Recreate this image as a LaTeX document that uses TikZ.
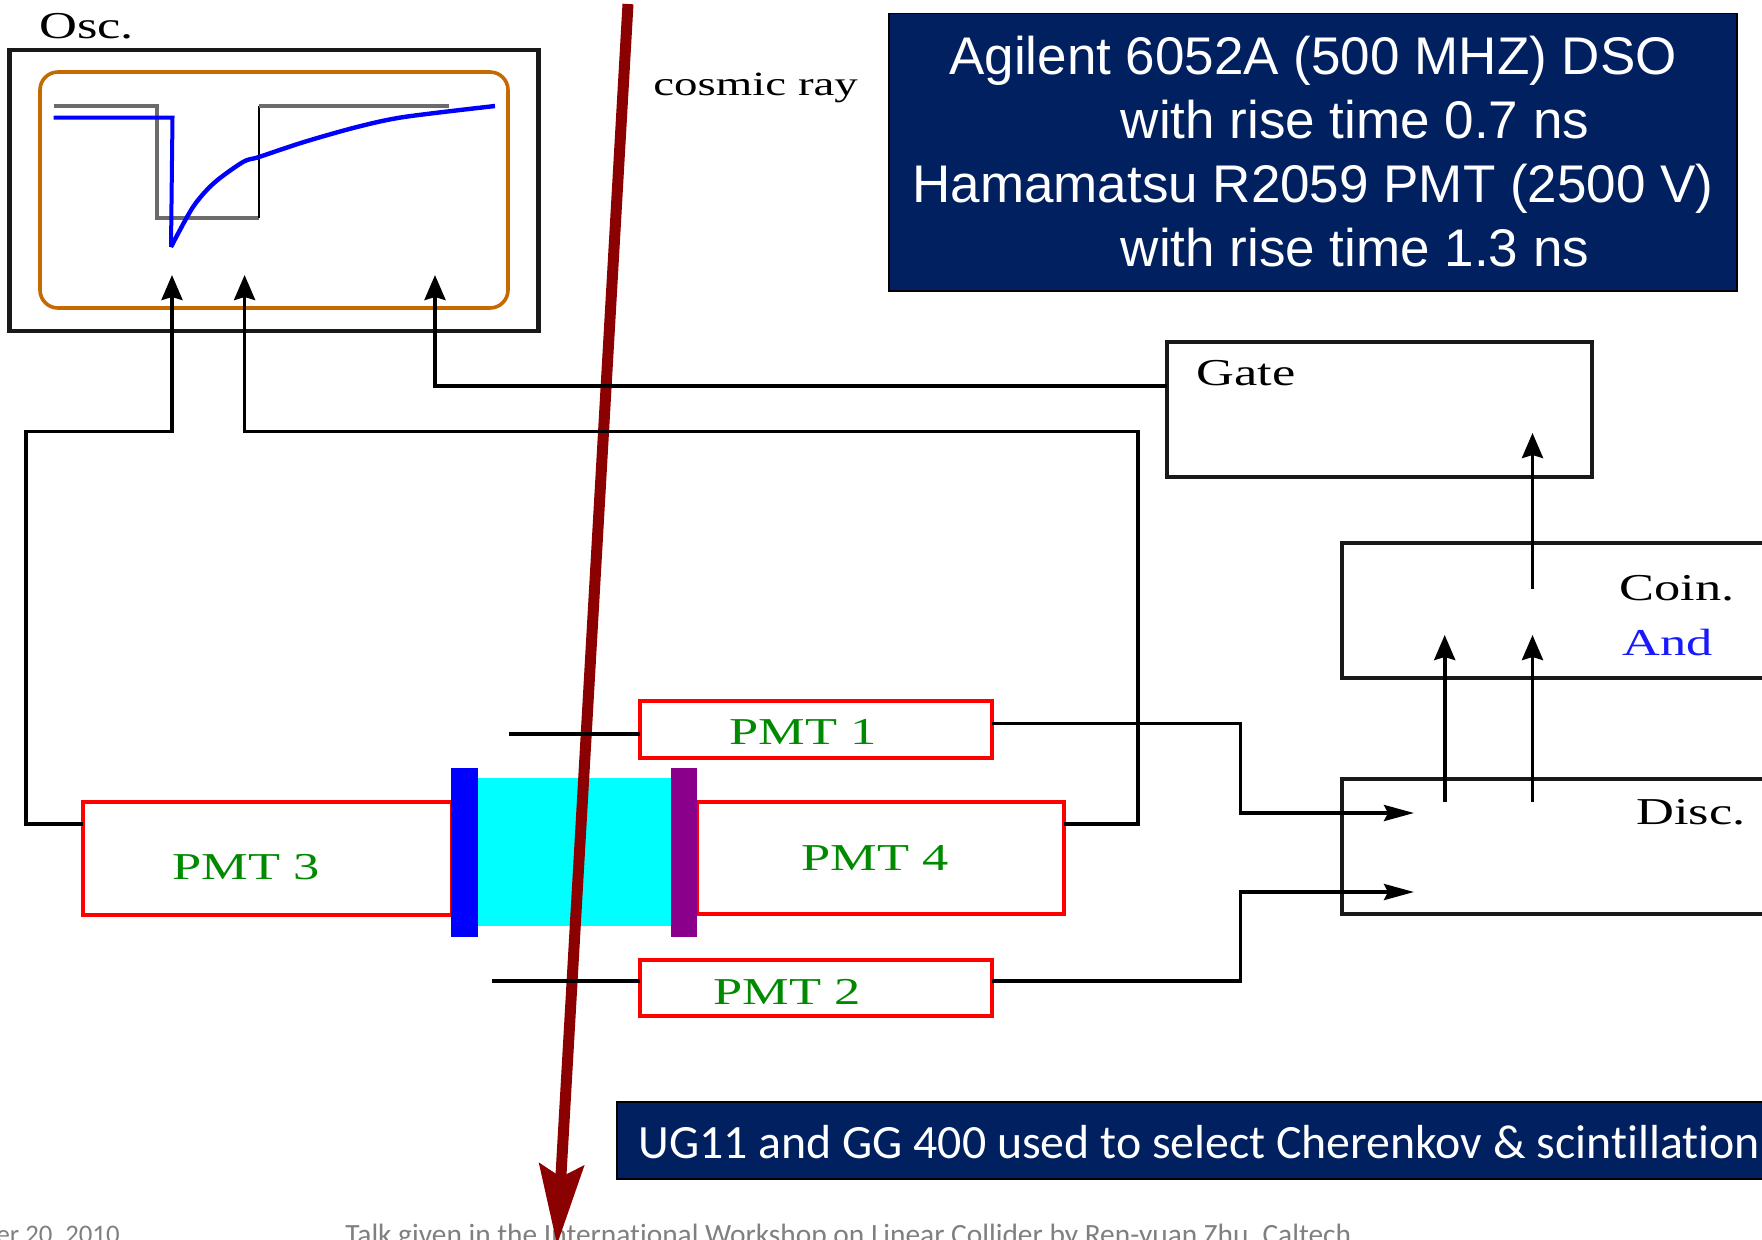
\documentclass[tikz,border=0pt]{standalone}
\usepackage{fontspec}
\usetikzlibrary{arrows.meta,fit}
\setmainfont{Liberation Sans}
\newfontfamily\labfont[FakeStretch=1.38]{Liberation Serif}
\newfontfamily\calfont[Ligatures=NoCommon]{Carlito}
\definecolor{navy}{HTML}{002060}
\definecolor{raycol}{HTML}{8B0000}
\definecolor{pmtgreen}{HTML}{008A00}
\definecolor{screencol}{HTML}{C46A00}
\definecolor{purplecol}{HTML}{8B008B}
\definecolor{crystalcol}{HTML}{00FFFF}
\definecolor{purered}{HTML}{FF0000}
\definecolor{pureblue}{HTML}{0000FF}
\tikzset{
  blackbox/.style={draw=black!90,line width=2.2pt,inner sep=0pt,outer sep=0pt},
  pmtbox/.style={draw=purered,line width=2.2pt,inner sep=0pt,outer sep=0pt},
  bar/.style={inner sep=0pt,outer sep=0pt},
  wire/.style={draw=black,line width=1.8pt,line join=miter},
  uparrow/.style={wire,-{Stealth[length=12.5pt,width=10.5pt,inset=1.5pt]}},
  rightarrow/.style={wire,-{Stealth[length=15pt,width=8pt,inset=2pt]}},
  lab/.style={anchor=base west,inner sep=0pt,font=\labfont\fontsize{19}{22}\selectfont},
  pmtlab/.style={lab,text=pmtgreen},
  panel/.style={fill=navy,draw=black,line width=.7pt,inner sep=0pt,outer sep=0pt,text=white},
  foottext/.style={inner sep=0pt,text=black!50,font=\calfont\fontsize{14.7}{17}\selectfont},
}
\begin{document}
\begin{tikzpicture}[x=0.5pt,y=-0.5pt]
\useasboundingbox (0,0) rectangle (1762,1239);
\clip (0,0) rectangle (1762,1239);
\fill[white] (0,0) rectangle (1762,1239);

% footer text
\node[foottext,anchor=base west] (foot) at (345,1244) {Talk given in the International Workshop on Linear Collider by Ren-yuan Zhu, Caltech};
\node[foottext,anchor=base east,font=\calfont\fontsize{13.4}{16}\selectfont] (date) at (120,1243) {er 20, 2010};

% crystal
\node[bar,fill=crystalcol,fit={(478,778)(671,926)}] (crystal) {};

% cosmic ray
\coordinate (rayTop) at (628,4);
\coordinate (rayTip) at (557,1245);
\draw[draw=raycol,line width=5.5pt,-{Stealth[length=40pt,width=22pt,inset=6pt]}] (rayTop) -- (rayTip);
\node[lab,font=\labfont\fontsize{17}{20}\selectfont] (raylab) at (653,95) {cosmic ray};

% oscilloscope
\node[blackbox,fit={(9.6,50)(538.6,331)}] (osc) {};
\node[draw=screencol,line width=1.8pt,rounded corners=9pt,inner sep=0pt,outer sep=0pt,fit={(40,72)(508,308)}] (screen) {};
\node[lab] (osclab) at (39,38) {Osc.};
\draw[draw=black!58,line width=2pt,line join=miter] (53.5,106) -- (157,106) -- (157,218) -- (259,218);
\draw[draw=black,line width=1.4pt] (259,218) -- (259,106);
\draw[draw=black!58,line width=2pt] (259,106) -- (449,106);
\draw[draw=pureblue,line width=2pt,line join=miter] (53.5,117.7) -- (172.5,117.7) -- (171,247);
\draw[draw=pureblue,line width=2.2pt] plot[smooth,tension=.5] coordinates {(171,247) (193,207) (214,183) (243,162) (259,157) (304,142) (357,127) (404,117) (495,106)};

% electronics
\node[blackbox,fit={(1167,342)(1592,477)}] (gate) {};
\node[lab] (gatelab) at (1196,385) {Gate};
\node[blackbox,fit={(1342,543)(1800,678)}] (coin) {};
\node[lab] (coinlab) at (1619,600) {Coin.};
\node[lab,text=pureblue!90!white] (andlab) at (1622,655) {And};
\node[blackbox,fit={(1342,779)(1800,914)}] (disc) {};
\node[lab] (disclab) at (1636,824) {Disc.};

% PMTs
\node[pmtbox,fit={(83,802)(452,915)}] (pmt3) {};
\node[pmtbox,fit={(697,802)(1064,914)}] (pmt4) {};
\node[pmtbox,fit={(640,701)(992,758)}] (pmt1) {};
\node[pmtbox,fit={(640,960)(992,1016)}] (pmt2) {};
\node[pmtlab] (pmt3lab) at (172,879) {PMT 3};
\node[pmtlab] (pmt4lab) at (801,870) {PMT 4};
\node[pmtlab] (pmt1lab) at (729,744) {PMT 1};
\node[pmtlab] (pmt2lab) at (713,1004) {PMT 2};
\node[bar,fill=pureblue,fit={(451,768)(478,937)}] (bluebar) {};
\node[bar,fill=purplecol,fit={(671,768)(697,937)}] (purplebar) {};

% free ends and route points
\coordinate (tipA) at (172,275);
\coordinate (tipB) at (244.6,275);
\coordinate (tipC) at (435,275);
\coordinate (row431) at (0,431.5);
\coordinate (row385) at (0,386);
\coordinate (row824) at (0,824);
\coordinate (row723) at (0,723.5);
\coordinate (row981) at (0,981);
\coordinate (leftCol) at (25.7,0);
\coordinate (rightCol) at (1138,0);
\coordinate (midCol) at (1240.5,0);
\coordinate (discIn1) at (1414,813);
\coordinate (discIn2) at (1414,892);
\coordinate (stub1) at (508.5,734);
\coordinate (stub2) at (492,981);
\coordinate (coinTipA) at (1444.7,635);
\coordinate (coinTipB) at (1532.5,635);
\coordinate (discOutA) at (1444.7,802);
\coordinate (discOutB) at (1532.5,802);
\coordinate (gateTip) at (1532.5,433);
\coordinate (coinOut) at (1532.5,589);

% connectors
\draw[uparrow] (pmt3.west |- row824) -| (leftCol |- row431) -| (tipA);
\draw[uparrow] (pmt4.east |- row824) -| (rightCol |- row431) -| (tipB);
\draw[uparrow] (gate.west |- row385) -| (tipC);
\draw[wire] (stub1) -- (pmt1.west |- stub1);
\draw[wire] (stub2) -- (pmt2.west |- stub2);
\draw[rightarrow] (pmt1.east |- row723) -| (midCol |- discIn1) -- (discIn1);
\draw[rightarrow] (pmt2.east |- row981) -| (midCol |- discIn2) -- (discIn2);
\draw[uparrow] (discOutA) -- (coinTipA);
\draw[uparrow] (discOutB) -- (coinTipB);
\draw[uparrow] (coinOut) -- (gateTip);

% information panels
\node[panel,fit={(889,13.5)(1737,291)}] (panelA) {};
\node[text=white,align=center,inner sep=0pt,font=\fontsize{26.5}{32}\selectfont,yshift=.5pt] (panelAtext) at (panelA.center) {Agilent 6052A (500 MHZ) DSO\\\hspace*{42pt}with rise time 0.7 ns\\Hamamatsu R2059 PMT (2500 V)\\\hspace*{42pt}with rise time 1.3 ns};
\node[panel,fit={(617,1102)(1800,1179)}] (panelB) {};
\node[anchor=base west,inner sep=0pt,text=white,font=\calfont\fontsize{23.9}{28}\selectfont] (panelBtext) at (638,1158) {UG11 and GG 400 used to select Cherenkov \& scintillation};
\end{tikzpicture}
\end{document}
